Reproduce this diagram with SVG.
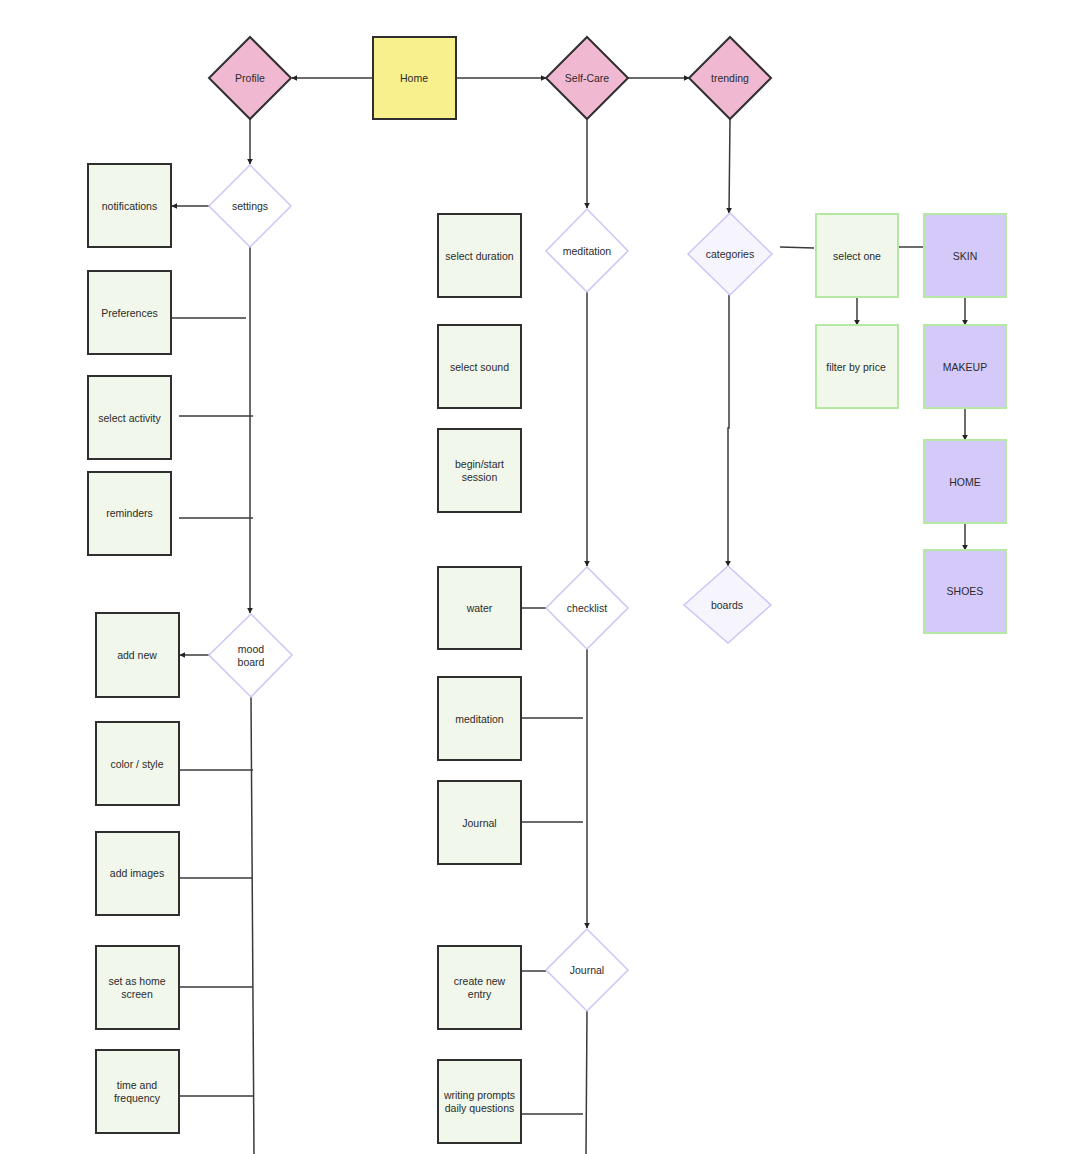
<svg xmlns="http://www.w3.org/2000/svg" width="1074" height="1154" viewBox="0 0 1074 1154">
<style>
text{font-family:"Liberation Sans",Arial,sans-serif;font-size:10.5px;fill:#2b2b2b;text-anchor:middle;dominant-baseline:central}
.pink{fill:#f1b8d2;stroke:#2f2f2f;stroke-width:2}
.yel{fill:#f8f08c;stroke:#2f2f2f;stroke-width:2}
.box{fill:#f1f7ea;stroke:#2f2f2f;stroke-width:2}
.gbox{fill:#f1f7ea;stroke:#b5e8a3;stroke-width:2}
.pbox{fill:#d5c9f9;stroke:#b5e8a3;stroke-width:2}
.dia{fill:#ffffff;stroke:#cbc6f7;stroke-width:1.5}
.dia2{fill:#f6f5fd;stroke:#cbc6f7;stroke-width:1.5}
.c{fill:none;stroke:#3a3a3a;stroke-width:1.5}
.a{fill:none;stroke:#3a3a3a;stroke-width:1.5;marker-end:url(#ah)}
</style>
<defs>
<marker id="ah" viewBox="0 0 10 10" refX="9" refY="5" markerWidth="6" markerHeight="6" markerUnits="userSpaceOnUse" orient="auto"><path d="M0,0 L10,5 L0,10 z" fill="#222"/></marker>
</defs>
<rect width="1074" height="1154" fill="#ffffff"/>
<g id="connectors">
<path class="a" d="M373,78 H292"/>
<path class="a" d="M454,78 H546"/>
<path class="a" d="M628,78 H689"/>
<path class="a" d="M250,119 V164"/>
<path class="a" d="M209,206 H172"/>
<path class="c" d="M171,318 H246"/>
<path class="c" d="M179,416 H253"/>
<path class="c" d="M179,518 H253"/>
<path class="a" d="M250,247 V613"/>
<path class="a" d="M209,655 H180"/>
<path d="M134,619 L137,613 L140,619 z" fill="#222"/>
<path class="c" d="M251,697 L254,1154"/>
<path class="c" d="M179,770 H253"/>
<path class="c" d="M179,878 H253"/>
<path class="c" d="M179,987 H253"/>
<path class="c" d="M179,1096 H253"/>
<path class="a" d="M587,119 V208"/>
<path class="a" d="M587,292 V566"/>
<path class="c" d="M521,608 H546"/>
<path class="c" d="M521,718 H583"/>
<path class="c" d="M521,822 H583"/>
<path class="a" d="M587,649 V928"/>
<path class="c" d="M521,971 H546"/>
<path class="c" d="M521,1114 H583"/>
<path class="c" d="M587,1011 L586,1154"/>
<path class="a" d="M730,119 L729,213"/>
<path class="a" d="M729,295 V428 H728 V566"/>
<path class="c" d="M780,247 L814,248"/>
<path class="a" d="M857,297 V325"/>
<path class="c" d="M898,247 H924"/>
<path class="a" d="M965,297 V325"/>
<path class="a" d="M965,408 V440"/>
<path class="a" d="M965,523 V550"/>
</g>
<g id="n-profile"><path class="pink" d="M250,37 L291,78 L250,119 L209,78 z"/><text x="250" y="78">Profile</text></g>
<g id="n-home"><rect class="yel" x="373" y="37" width="83" height="82"/><text x="414" y="78">Home</text></g>
<g id="n-selfcare"><path class="pink" d="M587,37 L628,78 L587,119 L546,78 z"/><text x="587" y="78">Self-Care</text></g>
<g id="n-trending"><path class="pink" d="M730,37 L771,78 L730,119 L689,78 z"/><text x="730" y="78">trending</text></g>
<g id="n-settings"><path class="dia" d="M250,165 L291,206 L250,247 L209,206 z"/><text x="250" y="206">settings</text></g>
<g id="n-notifications"><rect class="box" x="88" y="164" width="83" height="83"/><text x="129.5" y="206">notifications</text></g>
<g id="n-preferences"><rect class="box" x="88" y="271" width="83" height="83"/><text x="129.5" y="313">Preferences</text></g>
<g id="n-selectactivity"><rect class="box" x="88" y="376" width="83" height="83"/><text x="129.5" y="418">select activity</text></g>
<g id="n-reminders"><rect class="box" x="88" y="472" width="83" height="83"/><text x="129.5" y="513">reminders</text></g>
<g id="n-moodboard"><path class="dia" d="M251,614 L292,655 L251,697 L209,655 z"/><text x="251" y="649">mood</text><text x="251" y="662">board</text></g>
<g id="n-addnew"><rect class="box" x="96" y="613" width="83" height="84"/><text x="137" y="655">add new</text></g>
<g id="n-colorstyle"><rect class="box" x="96" y="722" width="83" height="83"/><text x="137" y="764">color / style</text></g>
<g id="n-addimages"><rect class="box" x="96" y="832" width="83" height="83"/><text x="137" y="873">add images</text></g>
<g id="n-sethome"><rect class="box" x="96" y="946" width="83" height="83"/><text x="137" y="981">set as home</text><text x="137" y="994">screen</text></g>
<g id="n-timefreq"><rect class="box" x="96" y="1050" width="83" height="83"/><text x="137" y="1085">time and</text><text x="137" y="1098">frequency</text></g>
<g id="n-meditation-d"><path class="dia" d="M587,209 L628,251 L587,292 L546,251 z"/><text x="587" y="251">meditation</text></g>
<g id="n-selectduration"><rect class="box" x="438" y="214" width="83" height="83"/><text x="479.5" y="256">select duration</text></g>
<g id="n-selectsound"><rect class="box" x="438" y="325" width="83" height="83"/><text x="479.5" y="367">select sound</text></g>
<g id="n-begin"><rect class="box" x="438" y="429" width="83" height="83"/><text x="479.5" y="464">begin/start</text><text x="479.5" y="477">session</text></g>
<g id="n-checklist"><path class="dia" d="M587,567 L628,608 L587,649 L546,608 z"/><text x="587" y="608">checklist</text></g>
<g id="n-water"><rect class="box" x="438" y="567" width="83" height="82"/><text x="479.5" y="608">water</text></g>
<g id="n-meditation-r"><rect class="box" x="438" y="677" width="83" height="83"/><text x="479.5" y="719">meditation</text></g>
<g id="n-journal-r"><rect class="box" x="438" y="781" width="83" height="83"/><text x="479.5" y="823">Journal</text></g>
<g id="n-journal-d"><path class="dia" d="M587,929 L628,970 L587,1011 L546,970 z"/><text x="587" y="970">Journal</text></g>
<g id="n-createentry"><rect class="box" x="438" y="946" width="83" height="83"/><text x="479.5" y="981">create new</text><text x="479.5" y="994">entry</text></g>
<g id="n-writing"><rect class="box" x="438" y="1060" width="83" height="83"/><text x="479.5" y="1095">writing prompts</text><text x="479.5" y="1108">daily questions</text></g>
<g id="n-categories"><path class="dia2" d="M730,213 L772,254 L730,295 L688,254 z"/><text x="730" y="254">categories</text></g>
<g id="n-boards"><path class="dia2" d="M728,566 L771,605 L728,643 L684,605 z"/><text x="727" y="605">boards</text></g>
<g id="n-selectone"><rect class="gbox" x="816" y="214" width="82" height="83"/><text x="857" y="256">select one</text></g>
<g id="n-filter"><rect class="gbox" x="816" y="325" width="82" height="83"/><text x="856" y="367">filter by price</text></g>
<g id="n-skin"><rect class="pbox" x="924" y="214" width="82" height="83"/><text x="965" y="256">SKIN</text></g>
<g id="n-makeup"><rect class="pbox" x="924" y="325" width="82" height="83"/><text x="965" y="367">MAKEUP</text></g>
<g id="n-homecat"><rect class="pbox" x="924" y="440" width="82" height="83"/><text x="965" y="482">HOME</text></g>
<g id="n-shoes"><rect class="pbox" x="924" y="550" width="82" height="83"/><text x="965" y="591">SHOES</text></g>
</svg>
